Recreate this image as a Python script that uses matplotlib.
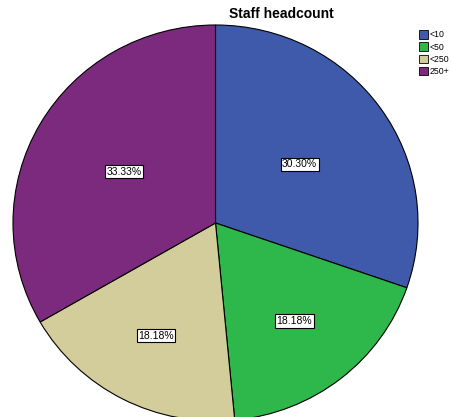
import matplotlib.pyplot as plt
import matplotlib.patches as mpatches
import numpy as np

plt.rcParams['font.family'] = ['Liberation Sans', 'DejaVu Sans']

categories = ["<10", "<50", "<250", "250+"]
counts = [10, 6, 6, 11]
colors = ["#3F5AAB", "#2EB74B", "#D3CD9B", "#7B2A7E"]
# how far from the centre each percent box sits (fraction of radius)
label_dist = [0.51, 0.63, 0.64, 0.52]

fig = plt.figure(figsize=(4.51, 4.17), dpi=100)
W, H = 451, 417
# pie centre (215.5, 223) px, radius ~202 x 198 px; runs off the bottom edge
cx, cy, rx, ry = 215.5, 223, 202.5, 198
ax = fig.add_axes([(cx - rx) / W, (H - cy - ry) / H, 2 * rx / W, 2 * ry / H])

total = sum(counts)
wedges, _ = ax.pie(counts, colors=colors, startangle=90, counterclock=False,
                   radius=1, wedgeprops=dict(edgecolor="black", linewidth=0.8),
                   normalize=True, frame=True)
ax.set_aspect("auto")
ax.set_xlim(-1, 1)
ax.set_ylim(-1, 1)
ax.axis("off")

for w, c, d in zip(wedges, counts, label_dist):
    ang = np.deg2rad((w.theta1 + w.theta2) / 2)
    ax.text(d * np.cos(ang), d * np.sin(ang), f"{100 * c / total:.2f}%",
            ha="center", va="center", fontsize=7.5,
            bbox=dict(boxstyle="square,pad=0.15", fc="white", ec="black", lw=0.8))

fig.text(281 / W, 1 - 14 / H, "Staff headcount", ha="center", va="center",
         fontsize=10, fontweight="bold")

handles = [mpatches.Patch(facecolor=c, edgecolor="black", linewidth=0.6) for c in colors]
fig.legend(handles, categories, loc="upper left", bbox_to_anchor=(413 / W, 1 - 24 / H),
           frameon=False, fontsize=6.3, handlelength=1.0, handleheight=1.1,
           handletextpad=0.25, labelspacing=0.35, borderpad=0.2)

fig.savefig("out.png", dpi=100)
